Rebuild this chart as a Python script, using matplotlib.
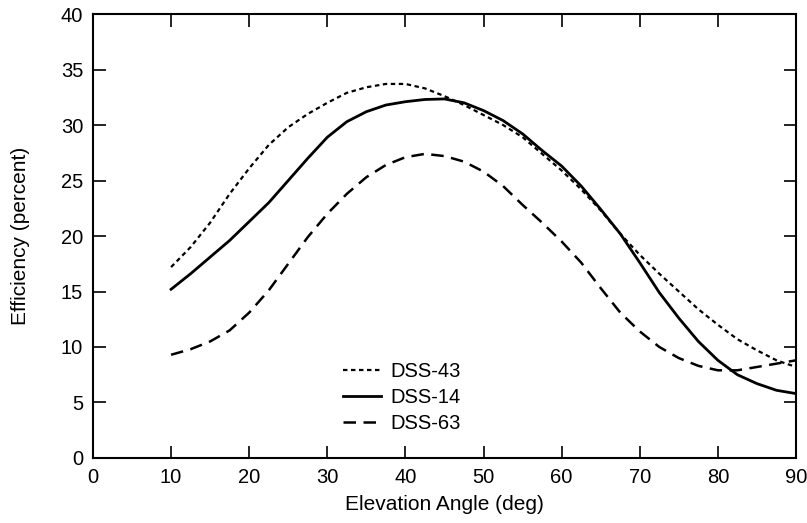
import numpy as np
import matplotlib
matplotlib.use('Agg')
import matplotlib.pyplot as plt

plt.rcParams['font.family'] = ['Liberation Sans', 'DejaVu Sans']

# elevation angle (deg)
elev = [10, 12.5, 15, 17.5, 20, 22.5, 25, 27.5, 30, 32.5, 35, 37.5, 40, 42.5, 45,
        47.5, 50, 52.5, 55, 57.5, 60, 62.5, 65, 67.5, 70, 72.5, 75, 77.5, 80,
        82.5, 85, 87.5, 90]

# efficiency (percent)
dss43 = [17.2, 19.0, 21.2, 23.8, 26.1, 28.2, 29.8, 31.0, 32.0, 32.9, 33.4, 33.7, 33.7, 33.3, 32.6,
         31.8, 30.9, 30.0, 28.9, 27.4, 25.9, 24.2, 22.3, 20.2, 18.3, 16.6, 15.0, 13.4, 12.0,
         10.7, 9.7, 8.8, 8.2]
dss14 = [15.2, 16.6, 18.1, 19.6, 21.3, 23.0, 25.0, 27.0, 28.9, 30.3, 31.2, 31.8, 32.1, 32.3, 32.35,
         32.0, 31.3, 30.4, 29.2, 27.7, 26.3, 24.5, 22.4, 20.2, 17.6, 14.9, 12.6, 10.5, 8.8,
         7.5, 6.7, 6.1, 5.8]
dss63 = [9.3, 9.8, 10.5, 11.5, 13.1, 15.1, 17.5, 19.9, 22.0, 23.8, 25.3, 26.4, 27.1, 27.4, 27.2,
         26.7, 25.8, 24.5, 22.8, 21.2, 19.5, 17.6, 15.3, 13.1, 11.4, 10.0, 9.0, 8.3, 7.9,
         7.9, 8.2, 8.5, 8.8]

fig = plt.figure(figsize=(8.07, 5.23), dpi=100)
ax = fig.add_axes([0.1152, 0.1243, 0.8712, 0.8489])

ax.plot(elev, dss43, color='black', lw=1.6, linestyle=(0, (2, 1.6)), label='DSS-43')
ax.plot(elev, dss14, color='black', lw=2.0, linestyle='-', label='DSS-14')
ax.plot(elev, dss63, color='black', lw=1.8, linestyle=(0, (5, 3)), label='DSS-63')

ax.set_xlim(0, 90)
ax.set_ylim(0, 40)
ax.set_xticks(np.arange(0, 91, 10))
ax.set_yticks(np.arange(0, 41, 5))
ax.tick_params(direction='in', length=9, width=1.2, top=True, right=True,
               labelsize=14.5, pad=7)
for s in ax.spines.values():
    s.set_linewidth(1.5)

ax.set_xlabel('Elevation Angle (deg)', fontsize=15, labelpad=6)
ax.set_ylabel('Efficiency (percent)', fontsize=15, labelpad=22)

ax.legend(loc='lower left', bbox_to_anchor=(0.33, 0.015), frameon=False, fontsize=14.5,
          handlelength=1.9, handletextpad=0.45, labelspacing=0.35)

fig.savefig('out.png', dpi=100)
